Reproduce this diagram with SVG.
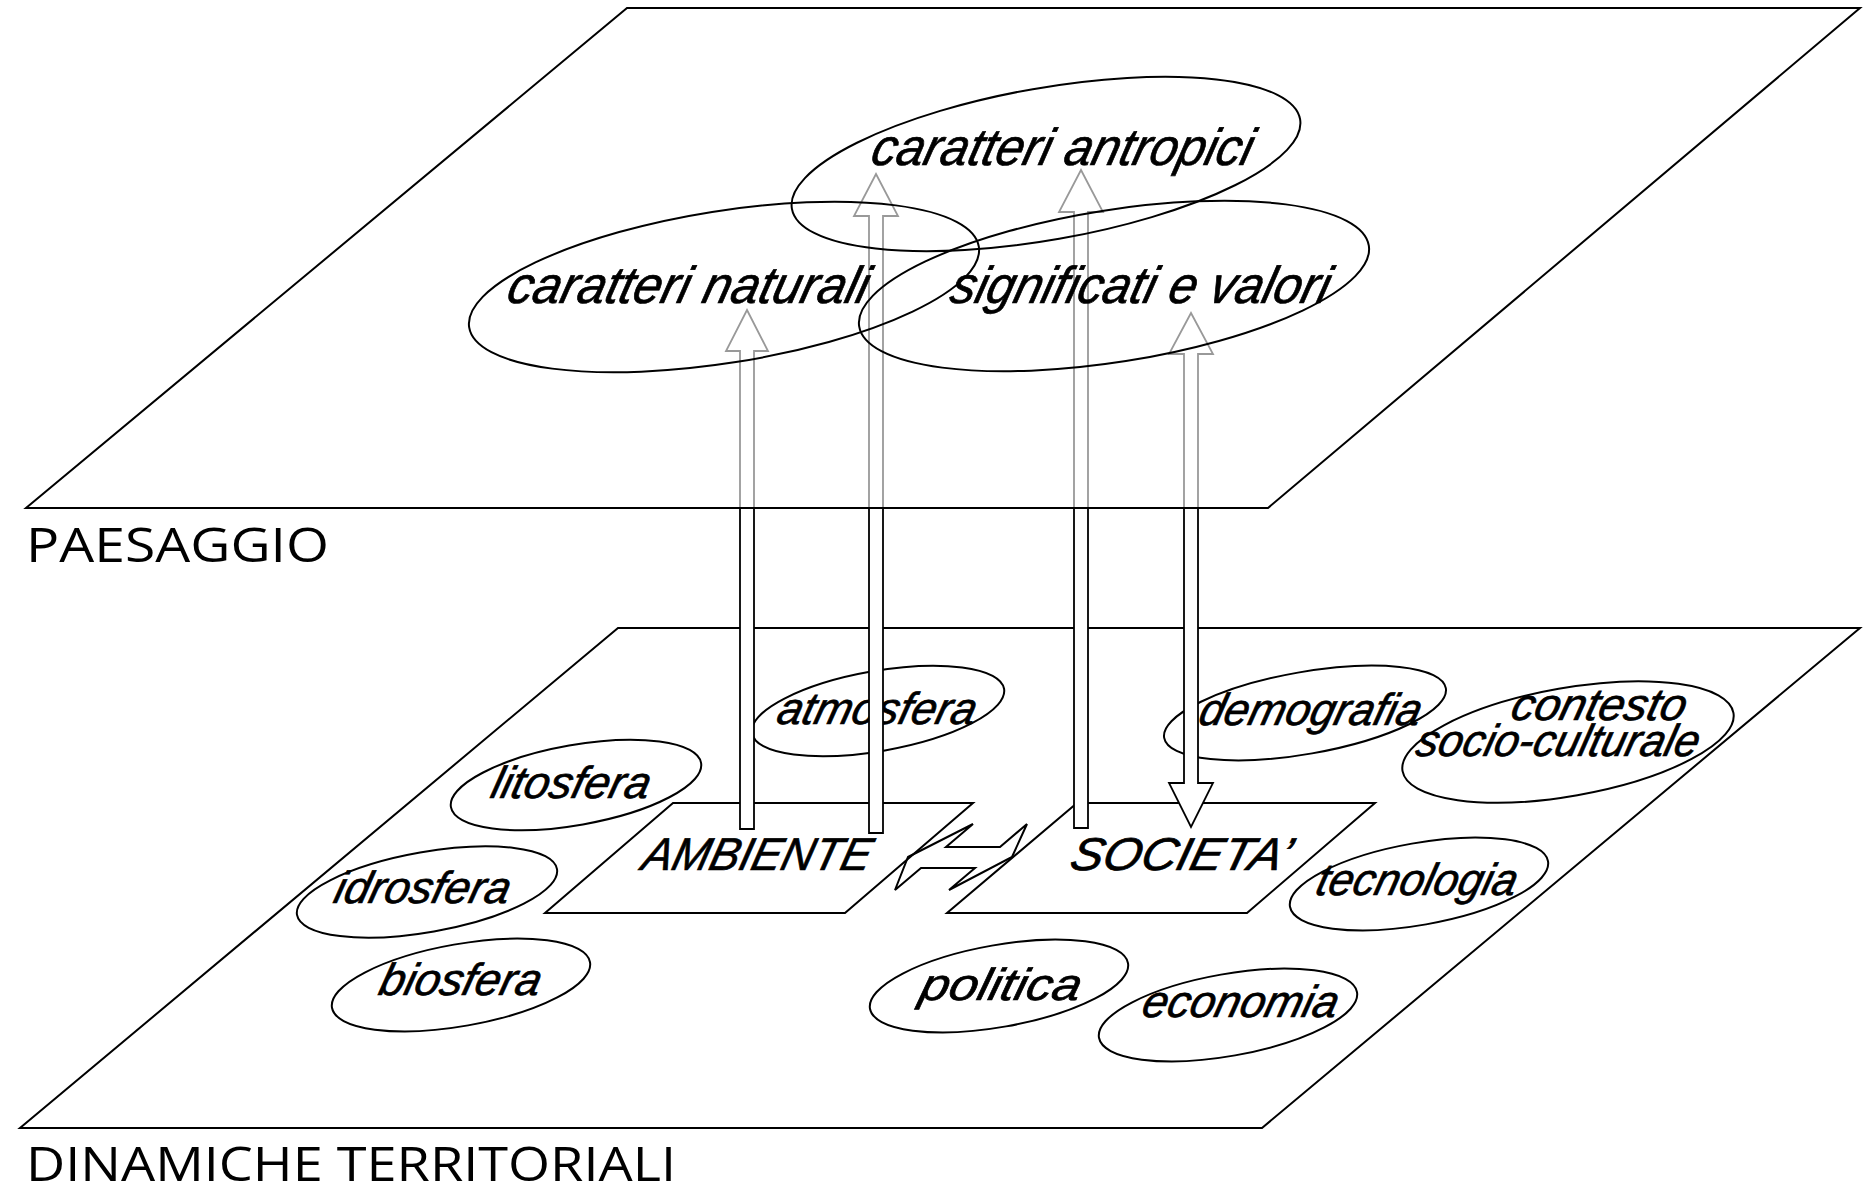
<svg xmlns="http://www.w3.org/2000/svg" width="1876" height="1195" viewBox="0 0 1876 1195">
<style>
.plane{fill:#fff;stroke:#000;stroke-width:2}
.topplane{fill:#fff;fill-opacity:0.6;stroke:#000;stroke-width:2}
.ell{fill:none;stroke:#000;stroke-width:2}
.box{fill:none;stroke:#000;stroke-width:2}
.arrow{fill:#fff;stroke:#000;stroke-width:1.8;stroke-linejoin:miter}
.lbl{font-family:"Open Sans","Liberation Sans",sans-serif;font-size:48px;fill:#000}
.it,.itc,.its{font-family:"Liberation Sans","DejaVu Sans",sans-serif;font-style:italic;fill:#000;stroke:#000;stroke-width:0.7}
.it{font-size:52px}
.itc{font-size:46px}
.its{font-size:45px}
</style>
<rect width="1876" height="1195" fill="#fff"/>

<g id="dinamiche-territoriali">
<polygon class="plane" points="618,628 1860,628 1262,1128 20,1128"/>
<text class="lbl" x="26" y="1181" textLength="650" lengthAdjust="spacingAndGlyphs">DINAMICHE TERRITORIALI</text>
</g>

<g id="litosfera"><ellipse class="ell" cx="576" cy="785" rx="127" ry="40" transform="rotate(-10 576 785)"/><text class="its" transform="translate(489 798) skewX(-14)" textLength="158" lengthAdjust="spacingAndGlyphs">litosfera</text></g>
<g id="idrosfera"><ellipse class="ell" cx="427" cy="892" rx="132" ry="40" transform="rotate(-10 427 892)"/><text class="its" transform="translate(332 903) skewX(-14)" textLength="175" lengthAdjust="spacingAndGlyphs">idrosfera</text></g>
<g id="biosfera"><ellipse class="ell" cx="461" cy="985" rx="131" ry="41" transform="rotate(-10 461 985)"/><text class="its" transform="translate(377 995) skewX(-14)" textLength="161" lengthAdjust="spacingAndGlyphs">biosfera</text></g>
<g id="atmosfera"><ellipse class="ell" cx="878" cy="711" rx="128" ry="40" transform="rotate(-10 878 711)"/><text class="its" transform="translate(775 724) skewX(-14)" textLength="198" lengthAdjust="spacingAndGlyphs">atmosfera</text></g>
<g id="demografia"><ellipse class="ell" cx="1305" cy="713" rx="143" ry="41" transform="rotate(-10 1305 713)"/><text class="its" transform="translate(1197 725) skewX(-14)" textLength="221" lengthAdjust="spacingAndGlyphs">demografia</text></g>
<g id="contesto"><ellipse class="ell" cx="1568" cy="742" rx="168" ry="54" transform="rotate(-10 1568 742)"/><text class="its" transform="translate(1509 720) skewX(-14)" textLength="174" lengthAdjust="spacingAndGlyphs">contesto</text><text class="its" transform="translate(1414 756) skewX(-14)" textLength="282" lengthAdjust="spacingAndGlyphs">socio-culturale</text></g>
<g id="tecnologia"><ellipse class="ell" cx="1419" cy="884" rx="131" ry="41" transform="rotate(-10 1419 884)"/><text class="its" transform="translate(1314 895) skewX(-14)" textLength="200" lengthAdjust="spacingAndGlyphs">tecnologia</text></g>
<g id="politica"><ellipse class="ell" cx="999" cy="986" rx="131" ry="41" transform="rotate(-10 999 986)"/><text class="its" transform="translate(918 1000) skewX(-14)" textLength="160" lengthAdjust="spacingAndGlyphs">politica</text></g>
<g id="economia"><ellipse class="ell" cx="1228" cy="1015" rx="131" ry="41" transform="rotate(-10 1228 1015)"/><text class="its" transform="translate(1140 1017) skewX(-14)" textLength="195" lengthAdjust="spacingAndGlyphs">economia</text></g>

<g id="ambiente"><polygon class="box" points="673,803 973,803 845,913 545,913"/><text class="itc" transform="translate(640 870) skewX(-14)" textLength="228" lengthAdjust="spacingAndGlyphs">AMBIENTE</text></g>
<g id="societa"><polygon class="box" points="1077,803 1375,803 1247,913 947,913"/><text class="itc" transform="translate(1068 870) skewX(-14)" textLength="220" lengthAdjust="spacingAndGlyphs">SOCIETA’</text></g>

<g id="connectors">
<polygon class="box" points="908,857 973,824 946,847 1000,847 1027,824 1012,857 949,890 975,868 921,868 895,890" stroke-width="1.8"/>
<polygon class="arrow" points="747,310 768,351 754,351 754,829 740,829 740,351 726,351"/>
<polygon class="arrow" points="876,174 898,216 883,216 883,833 869,833 869,216 854,216"/>
<polygon class="arrow" points="1081,170 1103,212 1088,212 1088,828 1074,828 1074,212 1059,212"/>
<polygon class="arrow" points="1191,313 1213,354 1198,354 1198,783 1213,783 1191,827 1169,783 1184,783 1184,354 1169,354"/>
</g>

<g id="paesaggio">
<polygon class="topplane" points="627,8 1860,8 1268,508 26,508"/>
<text class="lbl" x="26" y="562" textLength="303" lengthAdjust="spacingAndGlyphs">PAESAGGIO</text>
</g>
<g id="caratteri-antropici"><ellipse class="ell" cx="1046" cy="164" rx="258" ry="76" transform="rotate(-10 1046 164)"/><text class="it" transform="translate(869 165) skewX(-14)" textLength="380" lengthAdjust="spacingAndGlyphs">caratteri antropici</text></g>
<g id="caratteri-naturali"><ellipse class="ell" cx="724" cy="287" rx="258" ry="76" transform="rotate(-9 724 287)"/><text class="it" transform="translate(505 303) skewX(-14)" textLength="360" lengthAdjust="spacingAndGlyphs">caratteri naturali</text></g>
<g id="significati-e-valori"><ellipse class="ell" cx="1114" cy="286" rx="258" ry="76" transform="rotate(-9 1114 286)"/><text class="it" transform="translate(948 303) skewX(-14)" textLength="378" lengthAdjust="spacingAndGlyphs">significati e valori</text></g>
</svg>
